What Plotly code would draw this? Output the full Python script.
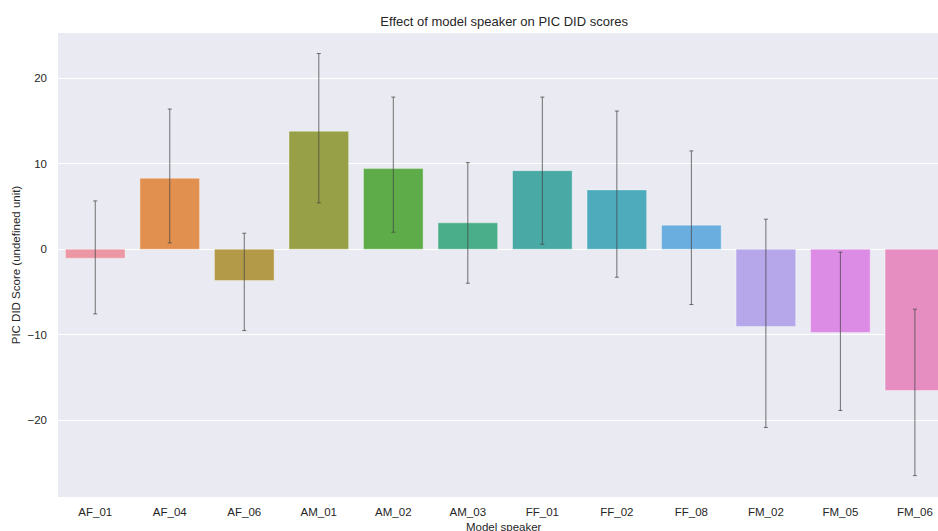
import plotly.graph_objects as go

speakers = ["AF_01", "AF_04", "AF_06", "AM_01", "AM_02", "AM_03",
            "FF_01", "FF_02", "FF_08", "FM_02", "FM_05", "FM_06"]
mean_score = [-1.05, 8.3, -3.67, 13.8, 9.43, 3.08, 9.19, 6.94, 2.81, -9.05, -9.75, -16.54]
ci_upper = [5.65, 16.4, 1.87, 22.9, 17.8, 10.13, 17.8, 16.17, 11.5, 3.51, -0.35, -7.02]
ci_lower = [-7.57, 0.74, -9.52, 5.42, 1.99, -3.98, 0.58, -3.28, -6.48, -20.86, -18.87, -26.5]
bar_colors = ["#eb97a4", "#e1904f", "#b39a48", "#97a046", "#5dac49", "#4aae8a",
              "#49aaa5", "#4eabbc", "#6aaee0", "#b6a6ea", "#dd8ce6", "#e68ec2"]

err_plus = [u - m for u, m in zip(ci_upper, mean_score)]
err_minus = [m - l for m, l in zip(mean_score, ci_lower)]

fig = go.Figure()
fig.add_trace(go.Bar(
    x=speakers, y=mean_score, width=0.8,
    marker=dict(color=bar_colors, line=dict(color="rgba(255,255,255,0.35)", width=1)),
    error_y=dict(type="data", symmetric=False, array=err_plus, arrayminus=err_minus,
                 color="rgba(70,70,70,0.75)", thickness=1, width=2),
    showlegend=False,
))

font_family = "Liberation Sans, Arial, sans-serif"
fig.update_layout(
    width=938, height=531, autosize=False,
    margin=dict(l=58, r=0, t=33, b=34),
    paper_bgcolor="white", plot_bgcolor="#eaeaf2",
    font=dict(family=font_family, size=11, color="#262626"),
    title=dict(text="Effect of model speaker on PIC DID scores", x=0.507, xref="paper",
               xanchor="center", y=1 - 21.5 / 531, yref="container", yanchor="middle",
               font=dict(size=13, color="#262626")),
    xaxis=dict(range=[-0.5, 11.31], showgrid=False, zeroline=False, ticks="",
               tickfont=dict(size=11.5, color="#262626"), ticklabelstandoff=6),
    yaxis=dict(range=[-29.0, 25.3], tickvals=[-20, -10, 0, 10, 20],
               ticktext=["\u221220", "\u221210", "0", "10", "20"],
               showgrid=True, gridcolor="white", gridwidth=1, zeroline=False, ticks="",
               tickfont=dict(size=11.5, color="#262626"), ticklabelstandoff=10,
               title=dict(text="PIC DID Score (undefined unit)", standoff=4,
                          font=dict(size=11.5, color="#262626"))),
)
fig.add_annotation(text="Model speaker", xref="paper", yref="paper", x=0.507, y=0,
                   yshift=-30, showarrow=False, xanchor="center", yanchor="middle",
                   font=dict(size=11.5, color="#262626"))
fig.write_html(
    "out.html",
    config={"displayModeBar": False},
    post_script="document.body.style.margin='0';document.body.style.overflow='hidden';",
)
